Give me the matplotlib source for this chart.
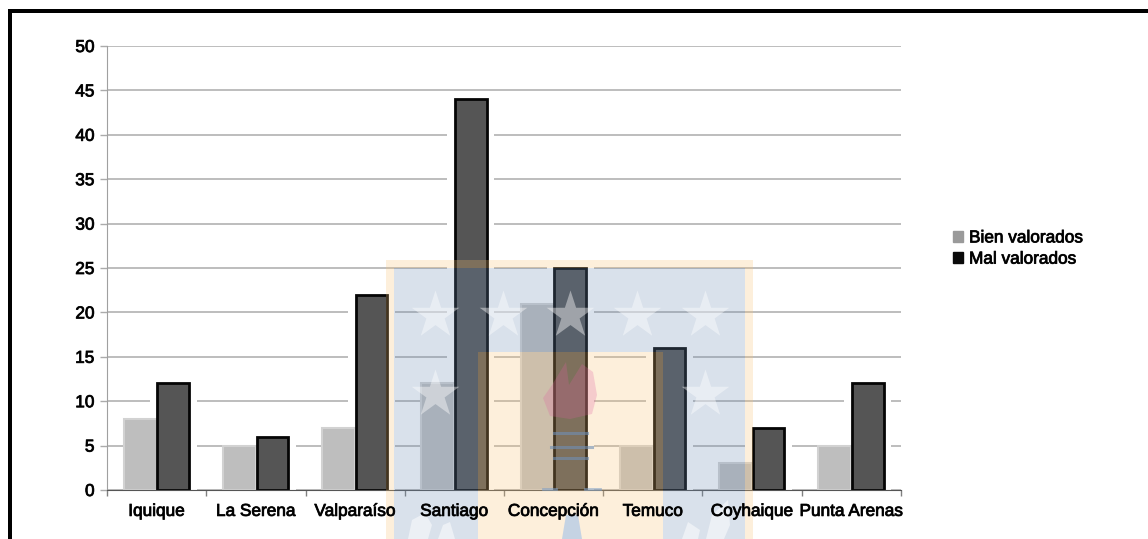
#!/usr/bin/python3

import numpy as np
import matplotlib
matplotlib.use("Agg")
import matplotlib.pyplot as plt
import matplotlib.patheffects as pe
from matplotlib.patches import Rectangle, Polygon, Patch
from matplotlib.lines import Line2D

ciudades = ["Iquique", "La Serena", "Valparaíso", "Santiago", "Concepción", "Temuco", "Coyhaique", "Punta Arenas"]
bien_valorados = [8, 5, 7, 12, 21, 5, 3, 5]
mal_valorados = [12, 6, 22, 44, 25, 16, 7, 12]
y_ticks = [0, 5, 10, 15, 20, 25, 30, 35, 40, 45, 50]

W, H = 1148, 539
FONT = "Liberation Sans"
FS = 12.4
stroke = [pe.withStroke(linewidth=0.6, foreground="#111111")]

fig = plt.figure(figsize=(W / 100, H / 100), dpi=100)
pos = [107 / W, 1 - 490 / H, (901 - 107) / W, (490 - 46) / H]
ax = fig.add_axes(pos)

x = np.arange(len(ciudades)) + 0.5
width = 0.333

ax.set_xlim(0, 8)
ax.set_ylim(0, 50)
ax.set_axisbelow(True)
ax.yaxis.grid(True, color="#ababab", lw=1.1, zorder=0)

# halo blanco alrededor de las barras oscuras, corta las lineas de la grilla
ax.bar(x + width / 2, np.array(mal_valorados) + 0.3, width + 0.14, color="white", zorder=1.5)

ax.bar(x - width / 2, bien_valorados, width, color="#bebebe", edgecolor="#d2d2d2", lw=1.5, zorder=2)
ax.bar(x + width / 2, mal_valorados, width - 0.015, color="#555555", edgecolor="#050505", lw=2, zorder=3)

for side in ["top", "right"]:
    ax.spines[side].set_visible(False)
ax.spines["left"].set_color("#a0a0a0")
ax.spines["bottom"].set_color("#555555")
ax.spines["bottom"].set_zorder(4)

ax.set_yticks(y_ticks)
ax.set_xticks(np.arange(0, 9))
ax.set_xticklabels([])
ax.set_yticklabels([])
ax.tick_params(axis="x", which="major", length=4.5, color="#808080", width=1)
ax.tick_params(axis="y", length=5, color="#ababab", width=1)

handles = [Patch(color="#9a9a9a", label="Bien valorados"), Patch(color="#0a0a0a", label="Mal valorados")]
leg = fig.legend(handles=handles, loc="center left", bbox_to_anchor=(953 / W, 1 - 248.5 / H), frameon=False,
                 handlelength=0.58, handleheight=0.58, handletextpad=0.35, labelspacing=0.36, borderpad=0,
                 borderaxespad=0, prop={"family": FONT, "size": FS})
for t in leg.get_texts():
    t.set_path_effects(stroke)

# capa en pixeles para la marca de agua
wm = fig.add_axes([0, 0, 1, 1], zorder=5)
wm.set_xlim(0, W)
wm.set_ylim(H, 0)
wm.axis("off")


def rect(x0, y0, x1, y1, color, alpha=0.25):
    wm.add_patch(Rectangle((x0, y0), x1 - x0, y1 - y0, facecolor=color, edgecolor="none", alpha=alpha))


crema = (251 / 255, 195 / 255, 115 / 255)
azul = (107 / 255, 139 / 255, 179 / 255)
rect(386, 260, 753, 268, crema)
rect(386, 268, 394, H, crema)
rect(745, 268, 753, H, crema)
rect(478, 352, 663, H, crema)
rect(394, 268, 745, 352, azul)
rect(394, 352, 478, H, azul)
rect(663, 352, 745, H, azul)

star_x = [435, 503, 570, 637, 705, 435, 705]
star_y = [315, 315, 315, 315, 315, 394, 394]
wm.scatter(star_x, star_y, marker="*", s=1300, color="white", alpha=0.42, linewidths=0)

# antorcha
llama = [(566, 362), (569, 385), (582, 364), (593, 372), (597, 395), (592, 414), (570, 419), (550, 416), (543, 398), (552, 385)]
wm.add_patch(Polygon(llama, closed=True, facecolor="#e060a0", edgecolor="none", alpha=0.25))
for yy, x0, x1 in [(433, 554, 587), (447, 551, 592), (458, 554, 587)]:
    wm.add_line(Line2D([x0, x1], [yy, yy], color="#6f8fb5", lw=2.2, alpha=0.6))
for x0, x1 in [(543, 556), (585, 600)]:
    wm.add_line(Line2D([x0, x1], [489, 489], color="#7f9fc5", lw=2, alpha=0.6))

# hojas abajo
for hoja in [[(408, 539), (412, 520), (425, 513), (432, 525), (428, 539)],
             [(438, 539), (443, 525), (450, 522), (455, 539)],
             [(682, 539), (688, 522), (700, 530), (698, 539)],
             [(706, 539), (712, 515), (728, 500), (730, 525), (724, 539)]]:
    wm.add_patch(Polygon(hoja, closed=True, facecolor="white", edgecolor="none", alpha=0.5))
wm.add_patch(Polygon([(562, 539), (566, 515), (578, 515), (582, 539)], closed=True, facecolor="#b8cce6", edgecolor="none", alpha=0.8))

# marco negro de la captura
rect(8, 9, 12, H, "black", alpha=1)
rect(8, 9, W, 13, "black", alpha=1)

# textos de los ejes encima de la marca de agua
ax_txt = fig.add_axes(pos, zorder=6)
ax_txt.patch.set_visible(False)
for side in ax_txt.spines:
    ax_txt.spines[side].set_visible(False)
ax_txt.set_xlim(0, 8)
ax_txt.set_ylim(0, 50)
ax_txt.set_xticks(x)
ax_txt.set_xticklabels(ciudades, fontsize=FS, family=FONT, path_effects=stroke)
ax_txt.set_yticks(y_ticks)
ax_txt.set_yticklabels(y_ticks, fontsize=FS, family=FONT, path_effects=stroke)
ax_txt.tick_params(axis="x", length=0, pad=10)
ax_txt.tick_params(axis="y", length=0, pad=9)

fig.savefig("out.png", dpi=100, facecolor="white")
plt.close(fig)
